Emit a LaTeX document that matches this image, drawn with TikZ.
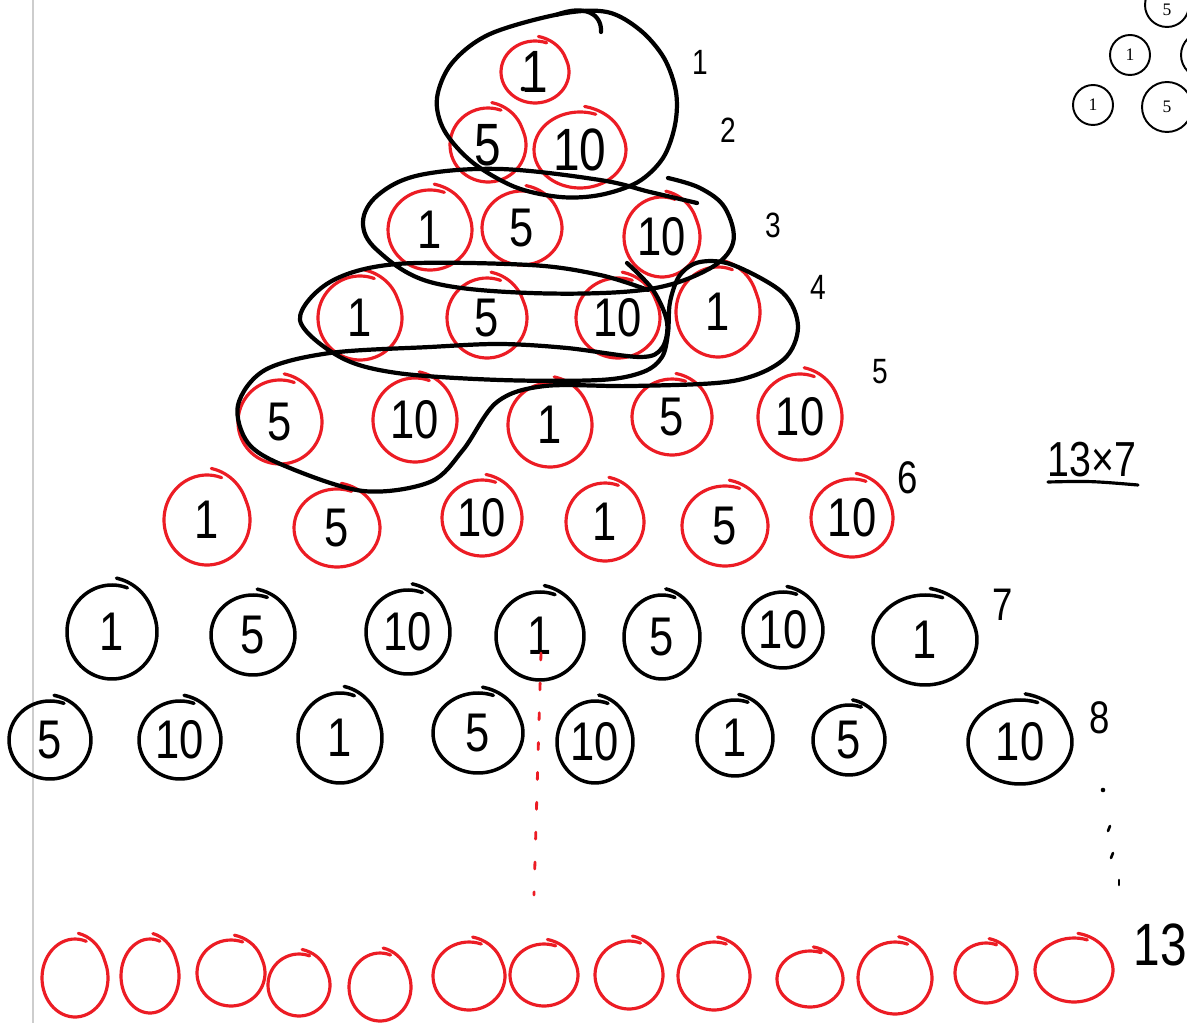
\documentclass[tikz,border=0pt]{standalone}
\usepackage{fontspec}
\setmainfont{Liberation Sans}
\newfontfamily\handfont[FakeStretch=0.8]{Liberation Sans}
\newfontfamily\smallserif{Liberation Serif}
\definecolor{inkred}{RGB}{236,28,36}
\definecolor{margingray}{RGB}{205,205,205}
% name, x, y, rx, ry, style, text
\newcommand{\hcirc}[7]{%
  \node[numtext] (#1) at (#2,#3) {#7};
  \draw[#6] plot[smooth, domain=70:445, samples=60, variable=\t]
    ({#2+#4*(1+0.15*max(0,(\t-385)/60))*cos(\t)}, {#3-#5*(1+0.15*max(0,(\t-385)/60))*sin(\t)});
}
\begin{document}
\begin{tikzpicture}[x=0.02cm,y=-0.02cm,
  numtext/.style={font={\handfont\fontsize{31}{33}\selectfont}, inner sep=0pt},
  lbl/.style={font={\handfont\fontsize{20}{22}\selectfont}, inner sep=0pt},
  redc/.style={inkred, line width=1.8pt, line cap=round, line join=round},
  blkc/.style={black, line width=2pt, line cap=round, line join=round},
  loopline/.style={black, line width=2.4pt, line cap=round, line join=round},
  thinc/.style={black, line width=1.1pt},
  serifnum/.style={font={\smallserif\fontsize{10}{11}\selectfont}, inner sep=0pt}]
\useasboundingbox (0,0) rectangle (1187,1023);
\clip (0,0) rectangle (1187,1023);
\fill[white] (0,0) rectangle (1187,1023);

% margin line
\draw[margingray, line width=1.2pt] (33,0) -- (33,1023);

% top-right printed circles
\node[serifnum] (tr5a) at (1167,10) {5};
\draw[thinc] (1167,5) circle [x radius=22, y radius=22];
\node[serifnum] (tr1a) at (1130,55) {1};
\draw[thinc] (1130,55) circle [x radius=20, y radius=20];
\coordinate (trc) at (1204,55);
\draw[thinc] (trc) circle [x radius=23, y radius=23];
\node[serifnum] (tr1b) at (1093,105) {1};
\draw[thinc] (1093,105) circle [x radius=20, y radius=20];
\node[serifnum] (tr5b) at (1167,107) {5};
\draw[thinc] (1167,107) circle [x radius=25, y radius=25];

% row 1-2 (red)
\hcirc{ra}{535}{72}{34}{31}{redc}{\fontsize{34}{36}\selectfont 1}
\fill (523,89) circle (1.3pt);
\hcirc{rba}{488}{145}{38}{37}{redc}{\fontsize{34}{36}\selectfont 5}
\hcirc{rbb}{580}{150}{46}{38}{redc}{\fontsize{34}{36}\selectfont 10}
% row 3
\hcirc{rca}{430}{230}{42}{40}{redc}{1}
\hcirc{rcb}{522}{228}{40}{37}{redc}{5}
\hcirc{rcc}{662}{237}{38}{40}{redc}{10}
% row 4
\hcirc{rda}{360}{318}{42}{42}{redc}{1}
\hcirc{rdb}{487}{318}{40}{40}{redc}{5}
\hcirc{rdc}{618}{318}{42}{40}{redc}{10}
\hcirc{rdd}{718}{312}{42}{45}{redc}{1}
% row 5
\hcirc{rea}{280}{422}{42}{42}{redc}{5}
\hcirc{reb}{415}{420}{42}{42}{redc}{10}
\hcirc{rec}{550}{425}{42}{42}{redc}{1}
\hcirc{red}{672}{417}{40}{38}{redc}{5}
\hcirc{ree}{800}{417}{42}{43}{redc}{10}
% row 6
\hcirc{rfa}{207}{520}{43}{45}{redc}{1}
\hcirc{rfb}{337}{528}{43}{39}{redc}{5}
\hcirc{rfc}{482}{518}{40}{38}{redc}{10}
\hcirc{rfd}{605}{522}{39}{39}{redc}{1}
\hcirc{rfe}{725}{526}{43}{40}{redc}{5}
\hcirc{rff}{852}{518}{41}{39}{redc}{10}
% row 7 (black)
\hcirc{rga}{112}{632}{45}{47}{blkc}{1}
\hcirc{rgb}{253}{635}{42}{40}{blkc}{5}
\hcirc{rgc}{408}{632}{42}{42}{blkc}{10}
\hcirc{rgd}{540}{636}{44}{44}{blkc}{1}
\hcirc{rge}{662}{637}{38}{42}{blkc}{5}
\hcirc{rgf}{783}{630}{40}{38}{blkc}{10}
\hcirc{rgg}{925}{640}{52}{45}{blkc}{1}
% row 8 (black)
\hcirc{rha}{50}{740}{41}{39}{blkc}{5}
\hcirc{rhb}{180}{740}{41}{39}{blkc}{10}
\hcirc{rhc}{340}{738}{42}{45}{blkc}{1}
\hcirc{rhd}{478}{733}{45}{40}{blkc}{5}
\hcirc{rhe}{595}{742}{38}{41}{blkc}{10}
\hcirc{rhf}{735}{738}{38}{38}{blkc}{1}
\hcirc{rhg}{849}{740}{36}{35}{blkc}{5}
\hcirc{rhh}{1020}{742}{52}{42}{blkc}{10}
% row 13 (red, empty)
\hcirc{rma}{75}{978}{33}{39}{redc}{}
\hcirc{rmb}{150}{976}{29}{37}{redc}{}
\hcirc{rmc}{231}{973}{34}{33}{redc}{}
\hcirc{rmd}{299}{985}{31}{31}{redc}{}
\hcirc{rme}{380}{987}{31}{34}{redc}{}
\hcirc{rmf}{469}{976}{36}{34}{redc}{}
\hcirc{rmg}{544}{975}{34}{31}{redc}{}
\hcirc{rmh}{629}{975}{34}{34}{redc}{}
\hcirc{rmi}{714}{976}{36}{34}{redc}{}
\hcirc{rmj}{810}{979}{33}{28}{redc}{}
\hcirc{rmk}{895}{978}{37}{36}{redc}{}
\hcirc{rml}{986}{973}{31}{30}{redc}{}
\hcirc{rmm}{1074}{970}{39}{32}{redc}{}

% big loop around rows 1-2
\draw[loopline] plot[smooth cycle, tension=0.55] coordinates {
  (560,14) (607,12) (640,30) (664,58) (676,92) (675,125) (663,158) (638,182)
  (600,195) (560,197) (515,187) (472,162) (444,130) (437,98) (452,63) (490,34)};
\draw[loopline] (556,15) .. controls (585,4) and (602,14) .. (601,32);

% row 3 loop
\draw[loopline] plot[smooth, tension=0.6] coordinates {
  (697,203) (650,192) (600,180) (500,169) (420,175) (378,195) (363,222)
  (377,250) (430,282) (530,293) (643,290) (707,270) (733,243) (725,208)
  (700,188) (668,178)};

% rows 4-5 loops (one stroke)
\draw[loopline] plot[smooth, tension=0.55] coordinates {
  (627,263) (653,290) (667,322) (662,348) (640,357) (567,348) (500,344)
  (430,347) (330,353) (265,370) (238,405) (248,443) (285,466) (363,491)
  (430,482) (463,450) (497,402) (545,386) (633,386) (733,381) (783,360)
  (798,327) (783,293) (733,265) (700,262) (680,275) (670,302) (668,333)
  (662,357) (643,372) (600,380) (500,380) (397,373) (340,357) (300,320)
  (330,282) (397,264) (530,265) (600,275) (648,290)};

% row labels
\node[lbl] (l1) at (700,62) {1};
\node[lbl] (l2) at (728,130) {2};
\node[lbl] (l3) at (773,225) {3};
\node[lbl] (l4) at (818,287) {4};
\node[lbl] (l5) at (880,372) {5};
\node[lbl, font={\handfont\fontsize{26}{28}\selectfont}] (l6) at (908,478) {6};
\node[lbl, font={\handfont\fontsize{26}{28}\selectfont}] (l7) at (1003,605) {7};
\node[lbl, font={\handfont\fontsize{26}{28}\selectfont}] (l8) at (1100,718) {8};
\node[lbl, font={\handfont\fontsize{34}{36}\selectfont}] (l13) at (1160,945) {13};

% 13 x 7 with underline
\node[lbl, font={\handfont\fontsize{28}{30}\selectfont}] (mul) at (1092,460) {13×7};
\coordinate (ula) at (1048,482);
\coordinate (ulb) at (1138,485);
\draw[black, line width=1.8pt, line cap=round] (ula) .. controls (1090,481) .. (ulb);

% red dashed line down the middle
\coordinate (dtop) at (541,653);
\coordinate (dbot) at (534,895);
\draw[inkred, line width=1.6pt, line cap=round, dash pattern=on 4pt off 13pt] (dtop) -- (dbot);

% black dots on the right
\coordinate (ka) at (1103,790);
\coordinate (kb) at (1110,826);
\coordinate (kc) at (1113,853);
\coordinate (kd) at (1119,880);
\fill (ka) circle (1.3pt);
\draw[black, line width=1.5pt, line cap=round] (kb) -- ++(-2,5);
\draw[black, line width=1.5pt, line cap=round] (kc) -- ++(-2,5);
\draw[black, line width=1.5pt, line cap=round] (kd) -- ++(0,5);
\end{tikzpicture}
\end{document}
